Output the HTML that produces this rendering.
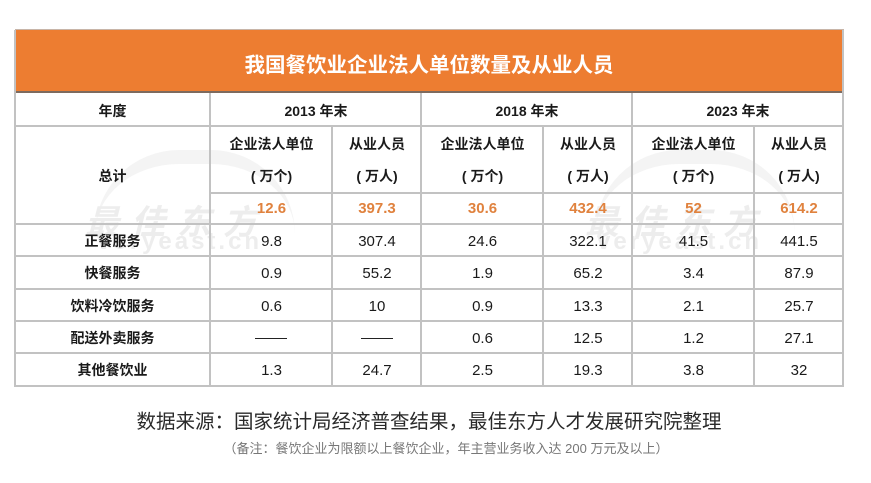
<!DOCTYPE html>
<html><head><meta charset="utf-8">
<style>
html,body{margin:0;padding:0;background:#fff;}
body{width:871px;height:483px;position:relative;overflow:hidden;font-family:"Liberation Sans","Noto Sans CJK SC",sans-serif;color:#111;}
.a{position:absolute;}
.h{position:absolute;height:2px;background:#c2c2c2;}
.v{position:absolute;width:2px;background:#c2c2c2;}
.t{position:absolute;text-align:center;white-space:nowrap;}
.b{font-weight:bold;font-size:14px;color:#1a1a1a;}
.n{font-size:15px;color:#1a1a1a;}
.o{font-weight:bold;font-size:15px;color:#e0823e;}
.wm{position:absolute;color:#ededed;font-weight:bold;white-space:nowrap;}
</style></head><body>
<!-- watermarks -->
<div class="a" style="left:95px;top:150px;width:200px;height:70px;border-top:14px solid #f2f2f2;border-radius:100px 100px 0 0;opacity:0.8;"></div>
<div class="a" style="left:595px;top:150px;width:200px;height:70px;border-top:14px solid #f2f2f2;border-radius:100px 100px 0 0;opacity:0.8;"></div>
<div class="wm" style="left:85px;top:195px;font-size:34px;letter-spacing:12px;font-style:italic;">最佳东方</div>
<div class="wm" style="left:97px;top:228px;font-size:24px;letter-spacing:3px;font-family:'Liberation Sans',sans-serif;">veryeast.cn</div>
<div class="wm" style="left:585px;top:195px;font-size:34px;letter-spacing:12px;font-style:italic;">最佳东方</div>
<div class="wm" style="left:597px;top:228px;font-size:24px;letter-spacing:3px;font-family:'Liberation Sans',sans-serif;">veryeast.cn</div>

<!-- orange header -->
<div class="a" style="left:15px;top:30px;width:828px;height:61px;background:#ed7d31;"></div>
<div class="a" style="left:15px;top:91px;width:828px;height:2px;background:#7d6a5e;"></div>
<div class="a" style="left:15px;top:29px;width:829px;height:1px;background:#c8b5a8;"></div>
<div class="t" style="left:15px;top:48px;width:828px;font-size:20.5px;font-weight:bold;color:#fff;">我国餐饮业企业法人单位数量及从业人员</div>

<!-- grid lines -->
<div class="v" style="left:14px;top:30px;height:357px;"></div>
<div class="v" style="left:842px;top:30px;height:357px;"></div>
<div class="v" style="left:209px;top:93px;height:294px;"></div>
<div class="v" style="left:420px;top:93px;height:294px;"></div>
<div class="v" style="left:631px;top:93px;height:294px;"></div>
<div class="v" style="left:331px;top:126px;height:261px;"></div>
<div class="v" style="left:542px;top:126px;height:261px;"></div>
<div class="v" style="left:753px;top:126px;height:261px;"></div>
<div class="h" style="left:14px;top:125px;width:830px;"></div>
<div class="h" style="left:209px;top:192px;width:635px;"></div>
<div class="h" style="left:14px;top:223px;width:830px;"></div>
<div class="h" style="left:14px;top:255px;width:830px;"></div>
<div class="h" style="left:14px;top:288px;width:830px;"></div>
<div class="h" style="left:14px;top:320px;width:830px;"></div>
<div class="h" style="left:14px;top:352px;width:830px;"></div>
<div class="h" style="left:14px;top:385px;width:830px;"></div>

<!-- header row -->
<div class="t b" style="left:15px;top:101px;width:195px;">年度</div>
<div class="t b" style="left:211px;top:101px;width:210px;">2013 年末</div>
<div class="t b" style="left:422px;top:101px;width:210px;">2018 年末</div>
<div class="t b" style="left:633px;top:101px;width:210px;">2023 年末</div>

<!-- subheader -->
<div class="t b" style="left:15px;top:166px;width:195px;">总计</div>
<div class="t b" style="left:211px;top:134px;width:121px;">企业法人单位</div>
<div class="t b" style="left:333px;top:134px;width:88px;">从业人员</div>
<div class="t b" style="left:422px;top:134px;width:121px;">企业法人单位</div>
<div class="t b" style="left:544px;top:134px;width:88px;">从业人员</div>
<div class="t b" style="left:633px;top:134px;width:121px;">企业法人单位</div>
<div class="t b" style="left:755px;top:134px;width:88px;">从业人员</div>
<div class="t b" style="left:211px;top:166px;width:121px;">( 万个)</div>
<div class="t b" style="left:333px;top:166px;width:88px;">( 万人)</div>
<div class="t b" style="left:422px;top:166px;width:121px;">( 万个)</div>
<div class="t b" style="left:544px;top:166px;width:88px;">( 万人)</div>
<div class="t b" style="left:633px;top:166px;width:121px;">( 万个)</div>
<div class="t b" style="left:755px;top:166px;width:88px;">( 万人)</div>

<!-- totals -->
<div class="t o" style="left:211px;top:200px;width:121px;">12.6</div>
<div class="t o" style="left:333px;top:200px;width:88px;">397.3</div>
<div class="t o" style="left:422px;top:200px;width:121px;">30.6</div>
<div class="t o" style="left:544px;top:200px;width:88px;">432.4</div>
<div class="t o" style="left:633px;top:200px;width:121px;">52</div>
<div class="t o" style="left:755px;top:200px;width:88px;">614.2</div>

<!-- rows -->
<div class="t b" style="left:15px;top:231px;width:195px;">正餐服务</div>
<div class="t n" style="left:211px;top:233px;width:121px;">9.8</div>
<div class="t n" style="left:333px;top:233px;width:88px;">307.4</div>
<div class="t n" style="left:422px;top:233px;width:121px;">24.6</div>
<div class="t n" style="left:544px;top:233px;width:88px;">322.1</div>
<div class="t n" style="left:633px;top:233px;width:121px;">41.5</div>
<div class="t n" style="left:755px;top:233px;width:88px;">441.5</div>

<div class="t b" style="left:15px;top:263px;width:195px;">快餐服务</div>
<div class="t n" style="left:211px;top:265px;width:121px;">0.9</div>
<div class="t n" style="left:333px;top:265px;width:88px;">55.2</div>
<div class="t n" style="left:422px;top:265px;width:121px;">1.9</div>
<div class="t n" style="left:544px;top:265px;width:88px;">65.2</div>
<div class="t n" style="left:633px;top:265px;width:121px;">3.4</div>
<div class="t n" style="left:755px;top:265px;width:88px;">87.9</div>

<div class="t b" style="left:15px;top:296px;width:195px;">饮料冷饮服务</div>
<div class="t n" style="left:211px;top:298px;width:121px;">0.6</div>
<div class="t n" style="left:333px;top:298px;width:88px;">10</div>
<div class="t n" style="left:422px;top:298px;width:121px;">0.9</div>
<div class="t n" style="left:544px;top:298px;width:88px;">13.3</div>
<div class="t n" style="left:633px;top:298px;width:121px;">2.1</div>
<div class="t n" style="left:755px;top:298px;width:88px;">25.7</div>

<div class="t b" style="left:15px;top:328px;width:195px;">配送外卖服务</div>
<div class="a" style="left:255px;top:338px;width:32px;height:1px;background:#222;"></div>
<div class="a" style="left:361px;top:338px;width:32px;height:1px;background:#222;"></div>
<div class="t n" style="left:422px;top:330px;width:121px;">0.6</div>
<div class="t n" style="left:544px;top:330px;width:88px;">12.5</div>
<div class="t n" style="left:633px;top:330px;width:121px;">1.2</div>
<div class="t n" style="left:755px;top:330px;width:88px;">27.1</div>

<div class="t b" style="left:15px;top:360px;width:195px;">其他餐饮业</div>
<div class="t n" style="left:211px;top:362px;width:121px;">1.3</div>
<div class="t n" style="left:333px;top:362px;width:88px;">24.7</div>
<div class="t n" style="left:422px;top:362px;width:121px;">2.5</div>
<div class="t n" style="left:544px;top:362px;width:88px;">19.3</div>
<div class="t n" style="left:633px;top:362px;width:121px;">3.8</div>
<div class="t n" style="left:755px;top:362px;width:88px;">32</div>

<!-- footer -->
<div class="t" style="left:0;top:405px;width:858px;font-size:19.5px;color:#2a2a2a;">数据来源：国家统计局经济普查结果，最佳东方人才发展研究院整理</div>
<div class="t" style="left:0;top:438px;width:892px;font-size:13px;color:#777;">（备注：餐饮企业为限额以上餐饮企业，年主营业务收入达 200 万元及以上）</div>
</body></html>
